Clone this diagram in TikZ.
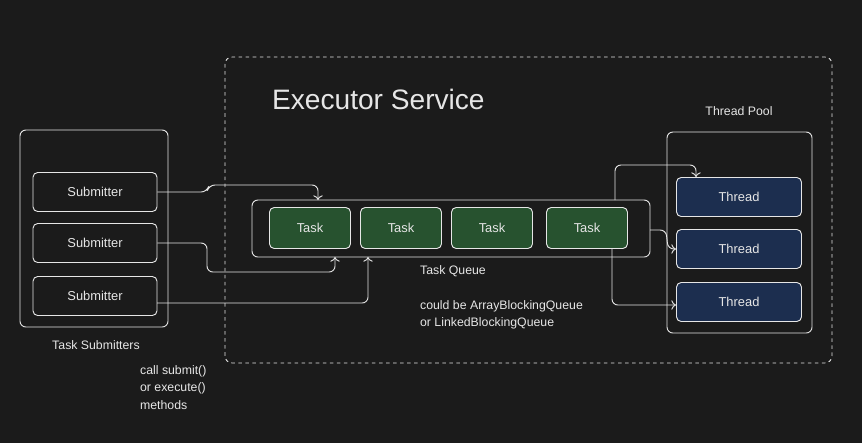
\documentclass[tikz,border=0pt]{standalone}
\usepackage{fontspec}
\setsansfont{Liberation Sans}
\usetikzlibrary{positioning, arrows.meta}
\definecolor{bg}{HTML}{1B1B1B}
\definecolor{taskgreen}{HTML}{27522F}
\definecolor{threadblue}{HTML}{1C2E4F}
\definecolor{line}{HTML}{E6E6E6}
\tikzstyle{group} = [rectangle, rounded corners=5pt, draw=line, thick]
\tikzstyle{submitbox} = [rectangle, rounded corners=4pt, minimum width=3.72cm, minimum height=1.17cm, text centered, draw=line, thick, text=line, font=\sffamily\fontsize{11}{13}\selectfont]
\tikzstyle{task} = [submitbox, fill=taskgreen, minimum width=2.43cm, minimum height=1.23cm]
\tikzstyle{thread} = [submitbox, fill=threadblue, minimum width=3.75cm, minimum height=1.17cm]
\tikzstyle{label} = [text=line, font=\sffamily\fontsize{10.5}{15}\selectfont, align=left]
\tikzstyle{arrow} = [thick, draw=line, rounded corners=5pt, -{To[length=4pt, width=8pt]}]

\begin{document}
\begin{tikzpicture}[x=0.03cm, y=-0.03cm]
\fill[bg] (0,0) rectangle (862,443);
% containers
\draw[group] (20,130) rectangle (168,327);
\draw[line, thick, dashed, rounded corners=6pt] (225,57) rectangle (832,363);
\draw[group] (252,200) rectangle (650,257);
\draw[group] (667,132) rectangle (812,333);
% submitters
\node (sub1) [submitbox] at (95,192) {Submitter};
\node (sub2) [submitbox] at (95,243) {Submitter};
\node (sub3) [submitbox] at (95,296) {Submitter};
% queue
\node (task1) [task] at (310,228) {Task};
\node (task2) [task] at (401,228) {Task};
\node (task3) [task] at (492,228) {Task};
\node (task4) [task] at (587,228) {Task};
% pool
\node (thread1) [thread] at (739,197) {Thread};
\node (thread2) [thread] at (739,249) {Thread};
\node (thread3) [thread] at (739,302) {Thread};
% labels
\node (title) [label, anchor=west, font=\sffamily\fontsize{24}{28}\selectfont] at (268,99) {Executor Service};
\node (poollbl) [label] at (739,111) {Thread Pool};
\node (sublbl) [label] at (96,345) {Task Submitters};
\node (calllbl) [label, anchor=north west] at (136,361) {call submit()\\or execute()\\methods};
\node (queuelbl) [label] at (453,271) {Task Queue};
\node (implbl) [label, anchor=north west] at (416,296) {could be ArrayBlockingQueue\\or LinkedBlockingQueue};
\coordinate (qtop) at (318,200);
\coordinate (qbot1) at (335,257);
\coordinate (qbot2) at (368,257);
\coordinate (qright) at (650,230);
\coordinate (s3out) at (157,303);
% connectors
\draw [arrow] (sub1.east) -- (207,192) -- (209,185) -- (318,185) -- (qtop);
\draw [arrow] (sub2.east) -- (207,243) -- (207,272) -- (335,272) -- (qbot1);
\draw [arrow] (s3out) -- (368,303) -- (qbot2);
\draw [arrow] (615,200) -- (615,165) -- (696,165) -- (thread1.north west -| 696,0);
\draw [arrow] (qright) -- (666,230) -- (668,249) -- (thread2.west);
\draw [arrow] (612,248) -- (612,305) -- (thread3.west |- 0,305);
\end{tikzpicture}
\end{document}
